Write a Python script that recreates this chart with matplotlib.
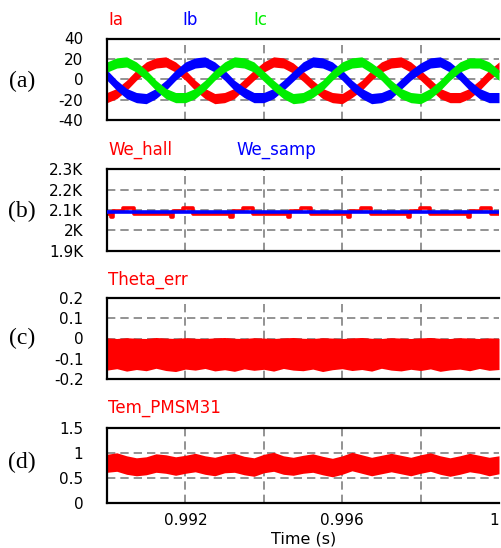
import numpy as np
import matplotlib
matplotlib.use('Agg')
import matplotlib.pyplot as plt

# envelope readings are taken every 0.25 ms from 0.99 s to 1.0 s
t = 0.99 + np.arange(41) * 0.00025

# (a) phase currents, centre of the ripple band (A)
ia = [-18, -14, -6, 4, 12, 16, 17, 12, 4, -6, -14, -19,
      -18, -14, -5, 4, 12, 17, 16, 11, 3, -6, -14, -18,
      -19, -13, -6, 4, 12, 16, 17, 12, 4, -5, -14, -18,
      -18, -14, -6, 4, 12]
ib = [4, -6, -14, -18, -19, -14, -6, 4, 12, 16, 17, 12,
      4, -6, -13, -18, -18, -14, -6, 3, 12, 17, 16, 12,
      4, -6, -14, -19, -18, -14, -5, 4, 11, 16, 17, 12,
      4, -6, -14, -18, -18]
ic = [12, 16, 17, 12, 4, -6, -14, -18, -18, -14, -6, 4,
      12, 17, 16, 12, 3, -6, -14, -19, -18, -13, -6, 4,
      12, 16, 17, 11, 4, -6, -14, -18, -19, -14, -6, 4,
      12, 16, 16, 12, 4]
ripple_a = 5

# (b) speed: hall estimate is a staircase, sampled speed is flat
hall_ms = [0.00, 0.10, 0.16, 0.42, 0.68, 1.62, 1.68, 1.94, 2.20,
           3.15, 3.21, 3.47, 3.73, 4.62, 4.68, 4.94, 5.20,
           6.15, 6.21, 6.47, 6.73, 7.67, 7.73, 7.99, 8.25,
           9.21, 9.27, 9.53, 9.79, 10.0]
hall_w = [2080, 2066, 2096, 2108, 2080, 2066, 2096, 2108, 2080,
          2066, 2096, 2108, 2080, 2066, 2096, 2108, 2080,
          2066, 2096, 2108, 2080, 2066, 2096, 2108, 2080,
          2066, 2096, 2108, 2080, 2080]
samp_ms = [0.0, 10.0]
samp_w = [2091, 2091]

# (c) angle error band
theta_hi = [0.003, 0.0, 0.004, 0.001, 0.0, 0.005, 0.002, 0.0, 0.004, 0.001,
            0.0, 0.003, 0.005, 0.001, 0.0, 0.004, 0.002, 0.0, 0.003, 0.005,
            0.001, 0.0, 0.004, 0.002, 0.0, 0.003, 0.005, 0.001, 0.0, 0.004,
            0.002, 0.0, 0.003, 0.005, 0.001, 0.0, 0.004, 0.002, 0.0, 0.003,
            0.001]
theta_lo = [-0.155, -0.148, -0.160, -0.152, -0.158, -0.146, -0.157, -0.162, -0.150, -0.155,
            -0.147, -0.159, -0.153, -0.161, -0.149, -0.156, -0.151, -0.160, -0.147, -0.155,
            -0.158, -0.150, -0.162, -0.153, -0.148, -0.157, -0.152, -0.160, -0.146, -0.155,
            -0.159, -0.151, -0.157, -0.149, -0.161, -0.154, -0.150, -0.158, -0.147, -0.156,
            -0.152]

# (d) torque band
tem_hi = [0.98, 1.01, 0.95, 0.91, 0.93, 0.99, 0.97, 0.93, 0.96, 1.00,
          0.95, 0.92, 0.97, 1.00, 0.94, 0.91, 0.98, 1.02, 0.95, 0.92,
          0.96, 0.99, 0.94, 0.90, 0.95, 1.02, 0.97, 0.92, 0.96, 1.00,
          0.96, 0.92, 0.97, 1.01, 0.95, 0.91, 0.95, 1.00, 0.96, 0.92,
          0.95]
tem_lo = [0.62, 0.64, 0.58, 0.55, 0.57, 0.62, 0.60, 0.56, 0.60, 0.63,
          0.58, 0.55, 0.61, 0.62, 0.57, 0.54, 0.61, 0.64, 0.58, 0.56,
          0.60, 0.62, 0.57, 0.53, 0.58, 0.65, 0.60, 0.55, 0.59, 0.63,
          0.59, 0.55, 0.60, 0.64, 0.58, 0.54, 0.58, 0.63, 0.60, 0.55,
          0.59]

x_grid = [0.992, 0.994, 0.996, 0.998]

RED, BLUE, GREEN = '#ff0000', '#0000ff', '#00ee00'
W, H = 501, 548

fig = plt.figure(figsize=(W / 100, H / 100), dpi=100)

# axes boxes in pixels: (top, bottom)
boxes = [(38.5, 120.0), (169.3, 250.7), (297.7, 379.3), (428.3, 503.3)]
x0, x1 = 107, 499
axs = []
for top, bot in boxes:
    ax = fig.add_axes([x0 / W, 1 - bot / H, (x1 - x0) / W, (bot - top) / H])
    axs.append(ax)

grid_kw = dict(color='#808080', lw=1.2, linestyle=(0, (5, 3)))

for ax in axs:
    ax.set_xlim(0.99, 1.0)
    ax.spines['right'].set_visible(False)
    for s in ['left', 'top', 'bottom']:
        ax.spines[s].set_linewidth(1.6)
    ax.set_xticks([0.992, 0.996, 1.0])
    ax.tick_params(which='both', length=0)
    ax.tick_params(axis='y', pad=17, labelsize=11)
    ax.tick_params(axis='x', pad=7, labelsize=11)
    ax.grid(which='major', axis='y', zorder=0, **grid_kw)
    for xg in x_grid:
        ax.axvline(xg, zorder=0, **grid_kw)
    ax.set_axisbelow(True)
    ax.set_xticklabels([])

ax_a, ax_b, ax_c, ax_d = axs

# (a)
for y, col in [(ia, RED), (ib, BLUE), (ic, GREEN)]:
    y = np.array(y, dtype=float)
    ax_a.fill_between(t, y - ripple_a, y + ripple_a, color=col, lw=0, zorder=2)
ax_a.set_ylim(-40, 40)
ax_a.set_yticks([-40, -20, 0, 20, 40])
ax_a.set_yticklabels(['-40', '-20', '0', '20', '40'])

# (b)
ax_b.plot(0.99 + np.array(hall_ms) / 1000, hall_w, color=RED, lw=2.6,
          drawstyle='steps-post', zorder=2)
ax_b.plot(0.99 + np.array(samp_ms) / 1000, samp_w, color=BLUE, lw=2.6, zorder=3)
ax_b.set_ylim(1900, 2300)
ax_b.set_yticks([1900, 2000, 2100, 2200, 2300])
ax_b.set_yticklabels(['1.9K', '2K', '2.1K', '2.2K', '2.3K'])

# (c)
ax_c.fill_between(t, theta_lo, theta_hi, color=RED, lw=0, zorder=2)
ax_c.set_ylim(-0.2, 0.2)
ax_c.set_yticks([-0.2, -0.1, 0, 0.1, 0.2])
ax_c.set_yticklabels(['-0.2', '-0.1', '0', '0.1', '0.2'])

# (d)
ax_d.fill_between(t, tem_lo, tem_hi, color=RED, lw=0, zorder=2)
ax_d.set_ylim(0, 1.5)
ax_d.set_yticks([0, 0.5, 1, 1.5])
ax_d.set_yticklabels(['0', '0.5', '1', '1.5'])
ax_d.set_xticklabels(['0.992', '0.996', '1'])
ax_d.get_xticklabels()[-1].set_ha('right')

# signal names above each panel
def name(x, y, s, col):
    fig.text(x / W, 1 - y / H, s, color=col, fontsize=12, ha='left', va='baseline')

name(108, 25, 'Ia', RED)
name(182, 25, 'Ib', BLUE)
name(253, 25, 'Ic', GREEN)
name(108, 155, 'We_hall', RED)
name(236, 155, 'We_samp', BLUE)
name(108, 285, 'Theta_err', RED)
name(108, 413, 'Tem_PMSM31', RED)

# panel letters
for lab, yc in [('(a)', 81), ('(b)', 211), ('(c)', 338), ('(d)', 462)]:
    fig.text(22 / W, 1 - yc / H, lab, fontsize=17, family='Liberation Serif',
             ha='center', va='center')

fig.text(304 / W, 1 - 539 / H, 'Time (s)', fontsize=11.5, ha='center', va='center')

fig.savefig('out.png', dpi=100)
